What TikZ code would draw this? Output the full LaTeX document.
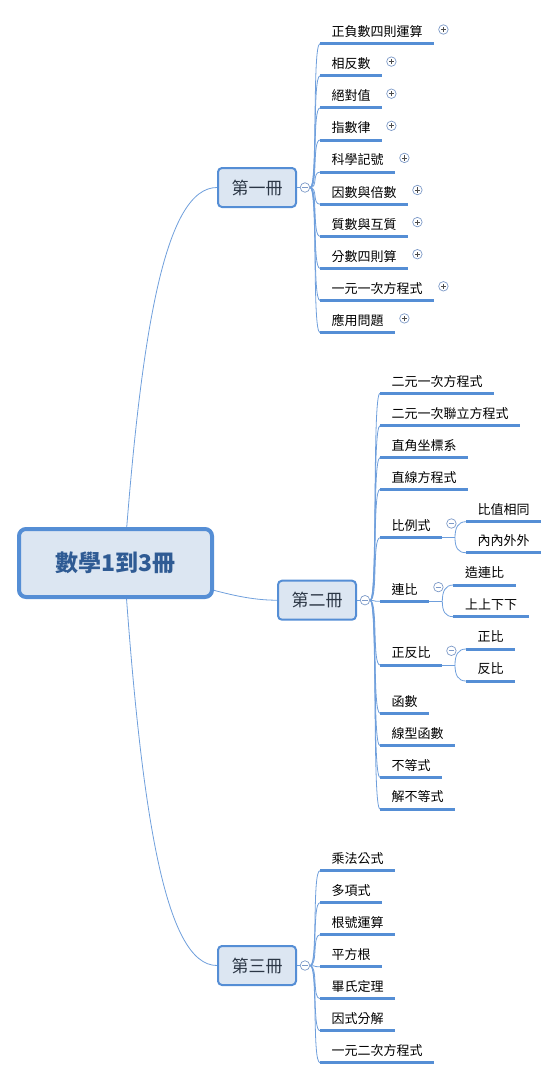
\documentclass[tikz,border=0pt]{standalone}
\usepackage{fontspec}
\newfontfamily\cjk{Noto Sans CJK TC}
\usetikzlibrary{backgrounds}
\definecolor{mmblue}{HTML}{558ED5}
\definecolor{mmfill}{HTML}{DCE6F2}
\definecolor{mmline}{HTML}{6F9FDC}
\definecolor{mmicon}{HTML}{7D9AC8}
\definecolor{mmroot}{HTML}{2F5B94}
\definecolor{mmtext}{HTML}{2B3645}
\tikzset{
  rootbox/.style  = {draw=mmblue, line width=4pt, fill=mmfill, rounded corners=7pt,
                     minimum width=193pt, minimum height=68pt, inner sep=0pt,
                     font=\cjk\bfseries\fontsize{23}{26}\selectfont, text=mmroot},
  topicbox/.style = {draw=mmblue, line width=2pt, fill=mmfill, rounded corners=4pt,
                     minimum width=78pt, minimum height=39pt, inner sep=0pt,
                     font=\cjk\fontsize{17}{20}\selectfont, text=mmtext},
  leaf/.style     = {anchor=south west, inner xsep=11.5pt, inner ysep=0pt,
                     text height=13pt, text depth=7pt, font=\cjk\fontsize{13}{15}\selectfont},
  uline/.style    = {mmblue, line width=3pt},
  conn/.style     = {mmline, line width=0.8pt},
  iconc/.style    = {circle, draw=mmicon, fill=white, line width=0.7pt,
                     minimum size=9.5pt, inner sep=0pt},
  plusic/.style   = {iconc, path picture={\draw[black!70, line width=0.7pt]
      ([xshift=-2.6pt]path picture bounding box.center) -- ([xshift=2.6pt]path picture bounding box.center)
      ([yshift=-2.6pt]path picture bounding box.center) -- ([yshift=2.6pt]path picture bounding box.center);}},
  minusic/.style  = {iconc, path picture={\draw[mmicon, line width=0.7pt]
      ([xshift=-2.8pt]path picture bounding box.center) -- ([xshift=2.8pt]path picture bounding box.center);}}
}

\begin{document}
\begin{tikzpicture}[x=1pt,y=-1pt]
  \useasboundingbox (0,0) rectangle (559,1079);
  \node[rootbox]  (root) at (115.5,563)  {數學1到3冊};
  \node[topicbox] (t1)   at (257,187.5)  {第一冊};
  \node[topicbox] (t2)   at (317,600.2)  {第二冊};
  \node[topicbox] (t3)   at (257,965.5)  {第三冊};
  \foreach \k in {1,2,3} { \node[minusic] (k\k) at ([xshift=8pt]t\k.east) {}; }
  \begin{scope}[on background layer]
    \draw[conn] ([xshift=8.5pt]root.center) .. controls (141,330) and (165,187.5) .. (t1.west);
    \draw[conn] (root.center) .. controls (200,585) and (235,600.2) .. (t2.west);
    \draw[conn] ([xshift=8.5pt]root.center) .. controls (141,813) and (165,965.5) .. (t3.west);
    \foreach \k in {1,2,3} { \draw[conn] (t\k.east) -- (k\k.west); }
  \end{scope}
  \foreach \t [count=\i] in {正負數四則運算,相反數,絕對值,指數律,科學記號,因數與倍數,
                            質數與互質,分數四則算,一元一次方程式,應用問題} {
    \pgfmathsetmacro{\yy}{43.7+32.1*(\i-1)}
    \node[leaf] (a\i) at (320,\yy) {\t};
    \draw[uline] (a\i.south west) -- (a\i.south east);
    \node[plusic] at ([xshift=9pt,yshift=4pt]a\i.east) {};
    \begin{scope}[on background layer]
      \draw[conn] (k1.east) .. controls (318,188) and (312,\yy) .. (a\i.south west);
    \end{scope}
  }
  \foreach \yy/\t [count=\i] in {393.3/二元一次方程式,425.7/二元一次聯立方程式,457.7/直角坐標系,
                                489.3/直線方程式,537.7/比例式,601.3/連比,665/正反比,713.3/函數,
                                745.7/線型函數,777.3/不等式,809/解不等式} {
    \node[leaf] (b\i) at (380,\yy) {\t};
    \draw[uline] (b\i.south west) -- (b\i.south east);
    \begin{scope}[on background layer]
      \draw[conn] (k2.east) .. controls (378,601) and (372,\yy) .. (b\i.south west);
    \end{scope}
  }
  \foreach \p/\yp/\x/\ya/\ta/\yb/\tb in {5/537.7/466/521.7/比值相同/552.7/內內外外,
                                        6/601.3/453.3/585/造連比/616.7/上上下下,
                                        7/665/466/649/正比/681/反比} {
    \node[minusic] at ([xshift=9pt,yshift=4pt]b\p.east) {};
    \coordinate (f\p) at ({\x-11},\yp);
    \node[leaf] (u\p) at (\x,\ya) {\ta};
    \node[leaf] (v\p) at (\x,\yb) {\tb};
    \draw[uline] (u\p.south west) -- (u\p.south east);
    \draw[uline] (v\p.south west) -- (v\p.south east);
    \begin{scope}[on background layer]
      \draw[conn] (b\p.south east) -- (f\p);
      \draw[conn] (f\p) .. controls ({\x-11},{\yp-10}) and ({\x-8},\ya) .. (u\p.south west);
      \draw[conn] (f\p) .. controls ({\x-11},{\yp+10}) and ({\x-8},\yb) .. (v\p.south west);
    \end{scope}
  }
  \foreach \t [count=\i] in {乘法公式,多項式,根號運算,平方根,畢氏定理,因式分解,一元二次方程式} {
    \pgfmathsetmacro{\yy}{870.7+32*(\i-1)}
    \node[leaf] (c\i) at (320,\yy) {\t};
    \draw[uline] (c\i.south west) -- (c\i.south east);
    \begin{scope}[on background layer]
      \draw[conn] (k3.east) .. controls (318,966) and (312,\yy) .. (c\i.south west);
    \end{scope}
  }
\end{tikzpicture}
\end{document}
